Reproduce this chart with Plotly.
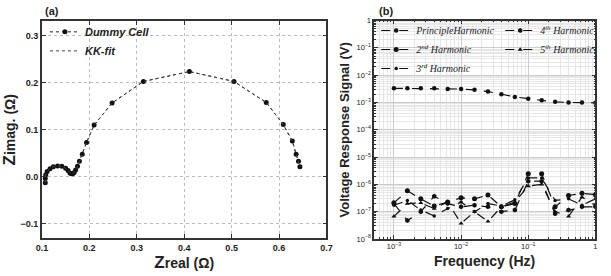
import plotly.graph_objects as go

# ---------------- Data ----------------
# Panel (a): Nyquist plot
z_real = [0.107, 0.107, 0.108, 0.111, 0.117, 0.124, 0.133, 0.142, 0.150, 0.155,
          0.159, 0.162, 0.165, 0.168, 0.171, 0.175, 0.179, 0.185, 0.194, 0.210,
          0.248, 0.314, 0.411, 0.505, 0.573, 0.609, 0.628, 0.636, 0.641, 0.644]
z_imag = [-0.013, -0.004, 0.004, 0.011, 0.017, 0.021, 0.023, 0.022, 0.018, 0.013,
          0.008, 0.006, 0.006, 0.009, 0.014, 0.022, 0.033, 0.048, 0.073, 0.110,
          0.157, 0.203, 0.224, 0.203, 0.158, 0.111, 0.076, 0.048, 0.033, 0.021]

# Panel (b): harmonics vs frequency
freq = [1.0e-3, 1.585e-3, 2.512e-3, 3.981e-3, 6.310e-3, 1.0e-2, 1.585e-2, 2.512e-2,
        3.981e-2, 6.310e-2, 1.0e-1, 1.585e-1, 2.512e-1, 3.981e-1, 6.310e-1, 1.0]
h1 = [3.3e-3, 3.3e-3, 3.3e-3, 3.3e-3, 3.1e-3, 3.1e-3, 2.9e-3, 2.5e-3,
      2.0e-3, 1.6e-3, 1.37e-3, 1.2e-3, 1.05e-3, 1.0e-3, 1.0e-3, 0.97e-3]
h2 = [2.1e-7, 5.8e-7, 2.95e-7, 1.6e-7, 2.25e-7, 3.2e-7, 2.95e-7, 4.1e-7,
      1.5e-7, 1.97e-7, 2.44e-6, 2.44e-6, 1.5e-7, 3.9e-7, 4.7e-7, 4.2e-7]
h3 = [1.72e-7, 2.58e-7, 1.14e-7, 7.0e-8, 1.3e-7, 2.25e-7, 1.0e-7, 1.97e-7,
      1.6e-7, 2.72e-7, 1.72e-6, 1.72e-6, 2.58e-7, 2.95e-7, 1.72e-7, 2.95e-7]
h4 = [1.97e-7, 4.7e-8, 1.0e-7, 3.67e-7, 1.97e-7, 1.5e-7, 1.72e-7, 1.5e-7,
      1.0e-7, 1.14e-7, 1.31e-6, 1.31e-6, 8.3e-8, 1.14e-7, 1.5e-7, 1.5e-7]
h5 = [6.7e-8, 1.97e-7, 2.08e-7, 1.3e-7, 2.25e-7, 3.7e-8, 1.0e-7, 4.4e-8,
      1.5e-7, 2.25e-7, 8.7e-7, 1.0e-6, 1.0e-7, 6.7e-8, 3.4e-7, 1.72e-7]

harm_names = ["<i>PrincipleHarmonic</i>", "<i>2<sup>nd</sup> Harmonic</i>",
              "<i>3<sup>rd</sup> Harmonic</i>", "<i>4<sup>th</sup> Harmonic</i>",
              "<i>5<sup>th</sup> Harmonic</i>"]
harm_data = [h1, h2, h3, h4, h5]
harm_symbols = ["circle", "circle", "circle", "hexagon", "triangle-up"]
harm_sizes = [4.5, 5, 3.5, 5, 4.5]
harm_legend = ["legend2", "legend2", "legend2", "legend3", "legend3"]

fig = go.Figure()

# ---------------- Panel (a) ----------------
fig.add_trace(go.Scatter(
    x=z_real, y=z_imag, mode="lines+markers", name="<b><i>Dummy Cell</i></b>",
    line=dict(color="#222", width=1, dash="dot"),
    marker=dict(color="#111", size=5), xaxis="x", yaxis="y", legend="legend"))
fig.add_trace(go.Scatter(
    x=z_real, y=z_imag, mode="lines", name="<b><i>KK-fit</i></b>",
    line=dict(color="#444", width=1, dash="dot"),
    xaxis="x", yaxis="y", legend="legend"))

# ---------------- Panel (b) ----------------
for name, data, sym, sz, lg in zip(harm_names, harm_data, harm_symbols, harm_sizes, harm_legend):
    fig.add_trace(go.Scatter(
        x=freq, y=data, mode="lines+markers", name=name,
        line=dict(color="#111", width=1.2, dash="dash"),
        marker=dict(color="#111", size=sz, symbol=sym),
        xaxis="x2", yaxis="y2", legend=lg))

axis_common = dict(showline=True, linecolor="#333", linewidth=1.5, mirror="ticks",
                   ticks="inside", ticklen=4, tickcolor="#333", zeroline=False)

fig.update_layout(
    width=611, height=276, margin=dict(l=0, r=0, t=0, b=0),
    paper_bgcolor="white", plot_bgcolor="white",
    font=dict(family="Liberation Sans, Arial", color="#222"),
    showlegend=True,
    xaxis=dict(domain=[0.060, 0.535], range=[0.1, 0.7], dtick=0.1, anchor="y",
               showgrid=True, gridcolor="#bbb", griddash="dot", gridwidth=1,
               tickfont=dict(size=9, weight="bold"), tickformat=".1f",
               title=dict(text="<b><span style='font-size:17px'>Z</span>real (Ω)</b>",
                          font=dict(size=14), standoff=4),
               **axis_common),
    yaxis=dict(domain=[0.123, 0.935], range=[-0.131, 0.331], dtick=0.1, anchor="x",
               showgrid=True, gridcolor="#bbb", griddash="dot", gridwidth=1,
               tickfont=dict(size=9, weight="bold"), tickformat=".1f",
               title=dict(text="<b><span style='font-size:17px'>Z</span>imag. (Ω)</b>",
                          font=dict(size=14), standoff=2),
               **axis_common),
    xaxis2=dict(domain=[0.614, 0.984], type="log", range=[-3.3, 0.0], dtick=1,
                anchor="y2", exponentformat="power",
                showgrid=True, gridcolor="#ccc", gridwidth=1,
                minor=dict(showgrid=True, gridcolor="#e6e6e6", ticks="inside",
                           ticklen=2, dtick="D1"),
                tickfont=dict(size=6),
                title=dict(text="<b>Frequency (Hz)</b>", font=dict(size=14), standoff=6),
                **axis_common),
    yaxis2=dict(domain=[0.120, 0.938], type="log", range=[-8, 0], dtick=1,
                anchor="x2", exponentformat="power",
                showgrid=True, gridcolor="#ccc", gridwidth=1,
                minor=dict(showgrid=True, gridcolor="#e6e6e6", ticks="inside",
                           ticklen=2, dtick="D1"),
                tickfont=dict(size=6),
                title=dict(text="<b>Voltage Response Signal (V)</b>", font=dict(size=13),
                           standoff=4),
                **axis_common),
    legend=dict(x=0.065, y=0.95, xanchor="left", yanchor="top", itemwidth=30,
                bgcolor="rgba(0,0,0,0)", font=dict(size=11)),
    legend2=dict(x=0.618, y=0.955, xanchor="left", yanchor="top", itemwidth=30,
                 bgcolor="rgba(0,0,0,0)", font=dict(size=10, family="Liberation Serif")),
    legend3=dict(x=0.825, y=0.955, xanchor="left", yanchor="top", itemwidth=30,
                 bgcolor="rgba(0,0,0,0)", font=dict(size=10, family="Liberation Serif")),
    annotations=[
        dict(text="<b>(a)</b>", x=0.062, y=0.975, xref="paper", yref="paper",
             xanchor="left", yanchor="middle", showarrow=False, font=dict(size=11)),
        dict(text="<b>(b)</b>", x=0.620, y=0.975, xref="paper", yref="paper",
             xanchor="left", yanchor="middle", showarrow=False, font=dict(size=11)),
    ],
)

fig.write_html("out.html")
